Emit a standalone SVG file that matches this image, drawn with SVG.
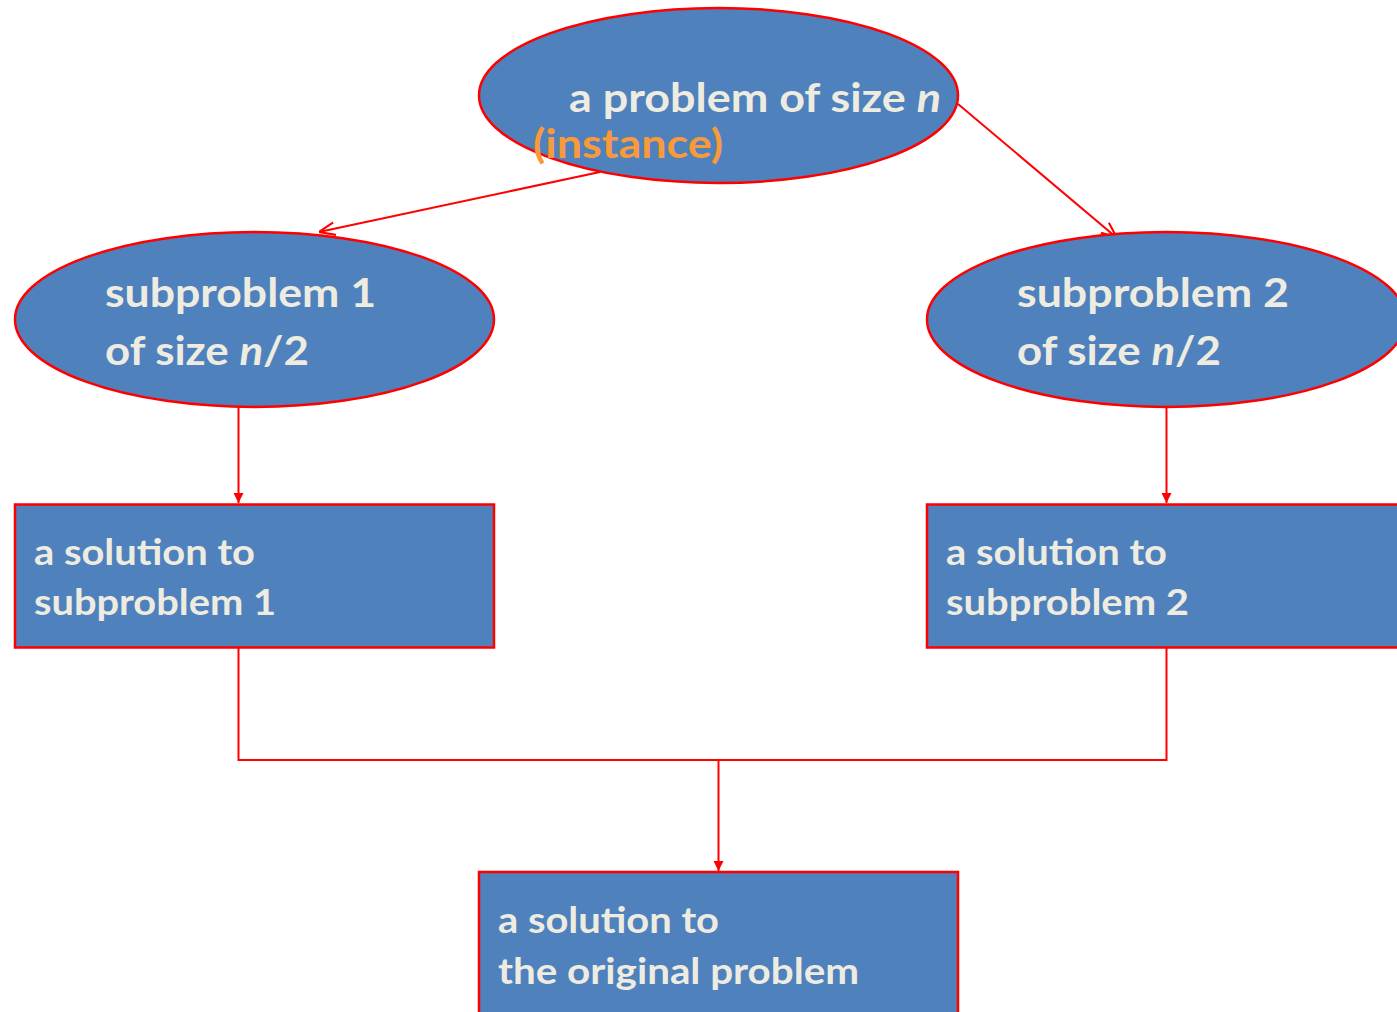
<svg xmlns="http://www.w3.org/2000/svg" width="1397" height="1012" viewBox="0 0 1397 1012">
<defs>
<style>
.node{fill:#4F81BD;stroke:#FF0000;stroke-width:2.5}
.t{font-family:Lato,"Open Sans","Liberation Sans",sans-serif;font-weight:700;fill:#EEECE1}
.big{font-size:41px}
.med{font-size:36px}
.c{stroke:#FF0000;stroke-width:2;fill:none}
</style>
<marker id="tri" viewBox="0 0 10 10" refX="10" refY="5" markerWidth="5" markerHeight="6" orient="auto" markerUnits="strokeWidth">
<path d="M0,0 L10,5 L0,10 Z" fill="#FF0000"/>
</marker>
<marker id="open" viewBox="0 0 10 10" refX="10" refY="5" markerWidth="8" markerHeight="8" orient="auto" markerUnits="strokeWidth">
<path d="M0,1 L10,5 L0,9" fill="none" stroke="#FF0000" stroke-width="1.3"/>
</marker>
</defs>
<rect width="1397" height="1012" fill="#FFFFFF"/>
<g id="connectors">
<line class="c" x1="600" y1="172" x2="319" y2="232" marker-end="url(#open)"/>
<line class="c" x1="958" y1="104" x2="1117" y2="238" marker-end="url(#open)"/>
<line class="c" x1="238.5" y1="407" x2="238.5" y2="503" marker-end="url(#tri)"/>
<line class="c" x1="1166.5" y1="407" x2="1166.5" y2="503" marker-end="url(#tri)"/>
<polyline class="c" points="238.5,648 238.5,760 1166.5,760 1166.5,648"/>
<line class="c" x1="718.5" y1="760" x2="718.5" y2="871" marker-end="url(#tri)"/>
</g>
<g id="problem">
<ellipse class="node" cx="718.5" cy="95.5" rx="239.5" ry="87.5"/>
<text class="t big" x="569" y="112" textLength="372" lengthAdjust="spacingAndGlyphs">a problem of size <tspan font-style="italic">n</tspan></text>
<text class="t big" x="533" y="158" style="fill:#F99A3A" textLength="190" lengthAdjust="spacingAndGlyphs">(instance)</text>
</g>
<g id="sub1">
<ellipse class="node" cx="254.5" cy="319.5" rx="239.5" ry="87.5"/>
<text class="t big" x="105" y="307" textLength="271" lengthAdjust="spacingAndGlyphs">subproblem 1</text>
<text class="t big" x="105" y="365" textLength="204" lengthAdjust="spacingAndGlyphs">of size <tspan font-style="italic">n</tspan>/2</text>
</g>
<g id="sub2">
<ellipse class="node" cx="1166.5" cy="319.5" rx="239.5" ry="87.5"/>
<text class="t big" x="1017" y="307" textLength="272" lengthAdjust="spacingAndGlyphs">subproblem 2</text>
<text class="t big" x="1017" y="365" textLength="204" lengthAdjust="spacingAndGlyphs">of size <tspan font-style="italic">n</tspan>/2</text>
</g>
<g id="sol1">
<rect class="node" x="15" y="504.5" width="479" height="143"/>
<text class="t med" x="34" y="565" textLength="221" lengthAdjust="spacingAndGlyphs">a solution to</text>
<text class="t med" x="34" y="615" textLength="242" lengthAdjust="spacingAndGlyphs">subproblem 1</text>
</g>
<g id="sol2">
<rect class="node" x="927" y="504.5" width="479" height="143"/>
<text class="t med" x="946" y="565" textLength="221" lengthAdjust="spacingAndGlyphs">a solution to</text>
<text class="t med" x="946" y="615" textLength="243" lengthAdjust="spacingAndGlyphs">subproblem 2</text>
</g>
<g id="solution">
<rect class="node" x="479" y="872" width="479" height="150"/>
<text class="t med" x="498" y="933" textLength="221" lengthAdjust="spacingAndGlyphs">a solution to</text>
<text class="t med" x="498" y="984" textLength="361" lengthAdjust="spacingAndGlyphs">the original problem</text>
</g>
</svg>
